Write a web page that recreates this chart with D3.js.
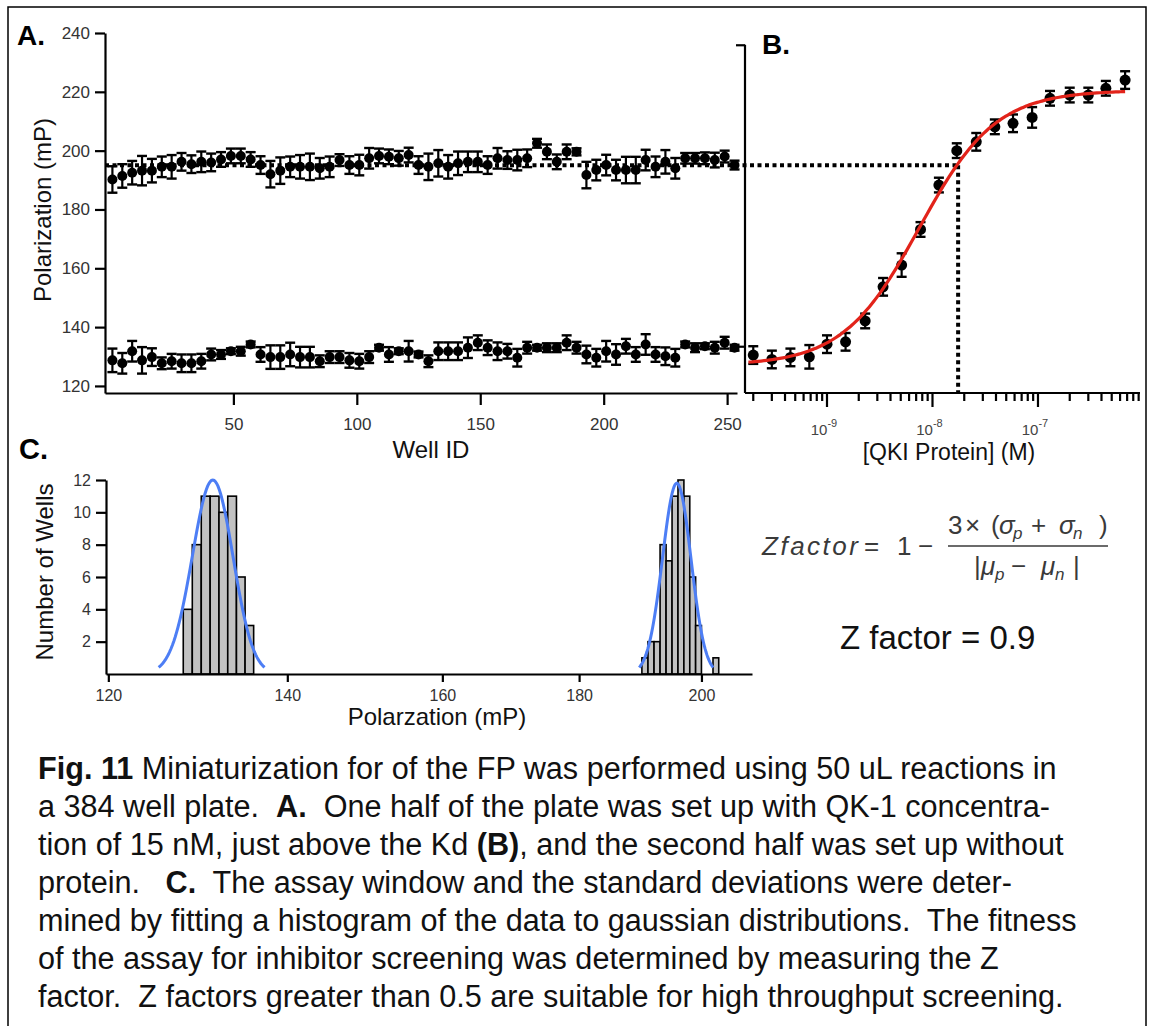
<!DOCTYPE html>
<html><head><meta charset="utf-8">
<script src="https://cdn.jsdelivr.net/npm/d3@7"></script>
<style>
body{margin:0;background:#fff}
svg{display:block}
text{font-family:"Liberation Sans",Arial,Helvetica,sans-serif}
</style>
</head><body>
<svg id="c" width="1153" height="1026"></svg>
<script>
// ---------------- DATA ----------------
// Panel A: well IDs (every 4th well)
const wellIds = [1,5,9,13,17,21,25,29,33,37,41,45,49,53,57,61,65,69,73,77,81,85,89,93,97,101,105,109,
  113,117,121,125,129,133,137,141,145,149,153,157,161,165,169,173,177,181,185,189,
  193,197,201,205,209,213,217,221,225,229,233,237,241,245,249,253];
const withProtein = [190.2,191.4,192.5,193.2,193.2,194.5,194.5,196.2,195.4,196.2,196.0,197.0,198.2,198.2,197.0,195.1,192.0,193.2,194.5,194.5,194.5,194.0,194.5,196.8,195.1,195.1,197.4,198.2,
  197.9,197.4,198.5,195.1,194.5,195.7,194.5,195.7,196.2,196.2,195.1,197.4,196.8,196.8,197.4,202.5,199.6,196.2,199.6,199.6,
  191.7,193.4,195.1,193.4,193.4,193.4,196.8,194.5,196.2,194.0,197.4,197.4,197.4,196.8,198.0,195.1];
const withProteinErr = [4.5,4,4,5,4,3.5,4,3,3,3.5,3,2.5,2.5,2.5,2.5,3,4.5,4.5,3.5,4,4.5,3.5,3.5,2,3,3.5,3.5,2.5,
  2.5,2.5,2.5,3,4.5,4.5,4,4,3.5,3.5,3,3.5,3,3.5,3,1.5,2.5,2.5,2.5,1.2,
  4.5,3.5,3.5,3.5,4.5,4.5,3.5,3.5,4,3.5,1.8,1.8,2,2.5,2,1.5];
const noProtein = [128.7,127.7,131.8,128.7,129.8,127.7,128.4,127.7,127.7,128.4,130.7,130.7,131.8,131.8,134.1,130.7,129.8,129.8,130.7,129.8,129.8,128.4,129.8,129.8,128.7,128.4,129.8,133.0,
  130.7,131.8,131.8,130.7,128.4,131.8,131.8,131.8,133.0,134.7,133.0,131.8,131.8,129.6,133.0,133.0,133.0,133.0,134.7,133.0,
  130.7,129.6,131.8,130.7,133.5,130.7,134.1,130.7,130.1,129.6,134.1,133.0,133.5,133.0,134.7,133.0];
const noProteinErr = [4,3.5,3.5,4.5,3,2,2.5,3,3,2.5,2,1.5,1,1.5,1,2.5,4,4,4,3.5,3.5,2,2,2,2.5,2.5,2,1,
  2.5,1,3.5,1,2,3,3,3,3.5,2.5,2.5,3,2.5,3,2,1,1.5,1.5,2.5,2,
  3,3,3.5,3.5,2.5,2.5,3.5,2.5,3,3,1,1.5,1,2,2,1];
const aYTicks = [120,140,160,180,200,220,240];
const aXTicks = [50,100,150,200,250];
const midLine = 195;          // dotted reference polarization

// Panel B: titration
const bConc = [2.0e-10,3.0e-10,4.5e-10,6.8e-10,1.0e-9,1.5e-9,2.3e-9,3.4e-9,5.1e-9,7.7e-9,1.15e-8,1.7e-8,2.6e-8,3.9e-8,5.8e-8,8.8e-8,1.3e-7,2.0e-7,3.0e-7,4.4e-7,6.7e-7];
const bVals = [130.5,129.0,129.7,129.9,134.2,135.0,142.1,153.7,161.1,173.2,188.3,200.0,203.0,208.1,209.3,211.3,217.8,218.9,218.9,221.2,224.0];
const bErr  = [3,3,3,4,3,3,2.5,3,4,2.5,2.5,2.5,3,2.5,3,3.5,2.5,2.5,2.5,2.5,3];
const fitBottom = 127, fitTop = 220.5, fitKd = 7.5e-9, fitHill = 1.2;
const fitRange = [1.8e-10, 6.7e-7];
const bMajor = [1e-9,1e-8,1e-7];
const bMajorExp = ["-9","-8","-7"];
const bYTicks = [133.5,236];
const chosenConc = 1.75e-8;

// Panel C: histogram
const histStarts = [128,129,130,131,132,133,134,135,190,191,192,193,194,195,196,197,198,199,202];
const histCounts = [4,8,11,11,10,11,6,3,1,2,2,8,7,11,12,11,6,3,1];
const binWidth = 1;
const gaussFits = [{mu:131.3, sigma:2.3, amp:12.0},{mu:195.8, sigma:2.4, amp:11.8}];
const cXTicks = [120,140,160,180,200];
const cYTicks = [2,4,6,8,10,12];

// ---------------- DRAW ----------------
const svg = d3.select("#c");

svg.append("path").attr("d","M8,1026V7H1146V1026").attr("fill","none").attr("stroke","#000").attr("stroke-width",1.5);

function styleAxis(g, fs){
  g.selectAll("path.domain").attr("stroke","#000").attr("stroke-width",2.2);
  g.selectAll(".tick line").attr("stroke","#000").attr("stroke-width",2.2);
  g.selectAll(".tick text").attr("font-size",fs).attr("fill","#333")
    .attr("font-family","'Liberation Sans',Arial,sans-serif");
}

// ---- Panel A ----
const xA = d3.scaleLinear().domain([-2,254]).range([105,737]);
const yA = d3.scaleLinear().domain([117.6,240]).range([393,33]);

const gAy = svg.append("g").attr("transform","translate(105,0)")
  .call(d3.axisLeft(yA).tickValues(aYTicks).tickSize(10).tickPadding(5).tickSizeOuter(0));
styleAxis(gAy,17);
const gAx = svg.append("g").attr("transform","translate(0,393)")
  .call(d3.axisBottom(xA).tickValues(aXTicks).tickSize(12).tickPadding(13).tickSizeOuter(0));
styleAxis(gAx,17);

const xB = d3.scaleLog().domain([1.67e-10,9.27e-7]).range([745,1140]);

svg.append("line").attr("x1",105).attr("x2",xB(chosenConc)).attr("y1",yA(midLine)).attr("y2",yA(midLine))
  .attr("stroke","#000").attr("stroke-width",4).attr("stroke-dasharray","4 3.5");
svg.append("line").attr("x1",xB(chosenConc)).attr("x2",xB(chosenConc)).attr("y1",yA(midLine)).attr("y2",393)
  .attr("stroke","#000").attr("stroke-width",4).attr("stroke-dasharray","4 3.5");

function errPoints(g, xs, ys, es, xScale, yScale, r, cap){
  const d = xs.map((x,i)=>({x, y:ys[i], e:es[i]}));
  const pg = g.selectAll("g.pt").data(d).join("g").attr("class","pt");
  pg.append("line").attr("x1",p=>xScale(p.x)).attr("x2",p=>xScale(p.x))
    .attr("y1",p=>yScale(p.y-p.e)).attr("y2",p=>yScale(p.y+p.e)).attr("stroke","#000").attr("stroke-width",2.2);
  [-1,1].forEach(s=>{
    pg.append("line").attr("x1",p=>xScale(p.x)-cap/2).attr("x2",p=>xScale(p.x)+cap/2)
      .attr("y1",p=>yScale(p.y+s*p.e)).attr("y2",p=>yScale(p.y+s*p.e)).attr("stroke","#000").attr("stroke-width",2.4);
  });
  pg.append("circle").attr("cx",p=>xScale(p.x)).attr("cy",p=>yScale(p.y)).attr("r",r).attr("fill","#000");
}
errPoints(svg.append("g"), wellIds, withProtein, withProteinErr, xA, yA, 5, 10);
errPoints(svg.append("g"), wellIds, noProtein, noProteinErr, xA, yA, 5, 10);

svg.append("text").attr("transform","translate(51,210) rotate(-90)").attr("text-anchor","middle")
  .attr("font-size",24).attr("fill","#111").text("Polarization (mP)");
svg.append("text").attr("x",431).attr("y",458).attr("text-anchor","middle")
  .attr("font-size",24).attr("fill","#111").text("Well ID");
svg.append("text").attr("x",17).attr("y",45).attr("font-size",28).attr("font-weight","bold").text("A.");

// ---- Panel B ----
const gBy = svg.append("g").attr("transform","translate(745,0)")
  .call(d3.axisLeft(yA).tickValues(bYTicks).tickSize(9).tickFormat("").tickSizeOuter(0));
gBy.select("path.domain").attr("d","M0,"+yA(bYTicks[1])+"V393");
styleAxis(gBy,14);
svg.append("line").attr("x1",745).attr("x2",1140).attr("y1",393).attr("y2",393).attr("stroke","#000").attr("stroke-width",2.2);
const bTicks = xB.ticks();
svg.append("g").selectAll("line").data(bTicks).join("line")
  .attr("x1",d=>xB(d)).attr("x2",d=>xB(d)).attr("y1",393)
  .attr("y2",d=>bMajor.some(m=>Math.abs(m-d)/m<1e-6)?407:401)
  .attr("stroke","#000").attr("stroke-width",2.2);
const bl = svg.append("g").selectAll("text").data(bMajor).join("text")
  .attr("x",d=>xB(d)-3).attr("y",435).attr("text-anchor","middle").attr("font-size",15).attr("fill","#444");
bl.append("tspan").text("10");
bl.append("tspan").attr("dy",-8).attr("font-size",11).text((d,i)=>bMajorExp[i]);

const fitPts = d3.range(0,121).map(i=>{
  const lx = Math.log10(fitRange[0]) + i/120*(Math.log10(fitRange[1])-Math.log10(fitRange[0]));
  const c = Math.pow(10,lx);
  const r = Math.pow(c/fitKd,fitHill);
  return [c, fitBottom + (fitTop-fitBottom)*r/(1+r)];
});
errPoints(svg.append("g"), bConc, bVals, bErr, xB, yA, 5.5, 10);
svg.append("path").datum(fitPts).attr("fill","none").attr("stroke","#e2231a").attr("stroke-width",3.2)
  .attr("d",d3.line().x(d=>xB(d[0])).y(d=>yA(d[1])).curve(d3.curveBasis));

svg.append("text").attr("x",949).attr("y",460).attr("text-anchor","middle")
  .attr("font-size",23).attr("fill","#111").text("[QKI Protein] (M)");
svg.append("text").attr("x",762).attr("y",54).attr("font-size",28).attr("font-weight","bold").text("B.");

// ---- Panel C ----
const xC = d3.scaleLog().domain([119.76,208.9]).range([106,752]);
const yC = d3.scaleLinear().domain([0,12]).range([674,480]);

svg.append("g").selectAll("rect").data(histStarts.map((s,i)=>({s,c:histCounts[i]}))).join("rect")
  .attr("x",d=>xC(d.s)).attr("width",d=>xC(d.s+binWidth)-xC(d.s))
  .attr("y",d=>yC(d.c)).attr("height",d=>yC(0)-yC(d.c))
  .attr("fill","#c2c2c2").attr("stroke","#000").attr("stroke-width",1.6);

gaussFits.forEach(g=>{
  const pts = d3.range(0,81).map(i=>{
    const v = g.mu - 2.6*g.sigma + i/80*5.2*g.sigma;
    return [v, g.amp*Math.exp(-0.5*Math.pow((v-g.mu)/g.sigma,2))];
  });
  svg.append("path").datum(pts).attr("fill","none").attr("stroke","#4d7ef5").attr("stroke-width",3)
    .attr("d",d3.line().x(d=>xC(d[0])).y(d=>yC(d[1])));
});

const gCy = svg.append("g").attr("transform","translate(106,0)")
  .call(d3.axisLeft(yC).tickValues(cYTicks).tickSize(10).tickPadding(5).tickSizeOuter(0));
styleAxis(gCy,16);
const gCx = svg.append("g").attr("transform","translate(0,674)")
  .call(d3.axisBottom(xC).tickValues(cXTicks).tickFormat(d3.format("d")).tickSize(8).tickPadding(8).tickSizeOuter(0));
styleAxis(gCx,16);

svg.append("text").attr("transform","translate(53,572) rotate(-90)").attr("text-anchor","middle")
  .attr("font-size",24).attr("fill","#111").text("Number of Wells");
svg.append("text").attr("x",437).attr("y",725).attr("text-anchor","middle")
  .attr("font-size",24).attr("fill","#111").text("Polarzation (mP)");
svg.append("text").attr("x",19).attr("y",459).attr("font-size",29).attr("font-weight","bold").text("C.");

// ---- Formula ----
const serif = "'Liberation Serif','DejaVu Serif',serif";
const fcol = "#3a3a3a";
function piece(x,y,t,ital,fs){
  return svg.append("text").attr("x",x).attr("y",y).attr("font-family",serif)
    .attr("font-style",ital?"italic":"normal").attr("font-size",fs||26).attr("fill",fcol).text(t);
}
piece(762,555,"Zfactor",true).attr("textLength",96).attr("lengthAdjust","spacing");
piece(864,555,"=");
piece(897,555,"1");
piece(918,555,"\u2212");
svg.append("line").attr("x1",948).attr("x2",1108).attr("y1",546).attr("y2",546).attr("stroke",fcol).attr("stroke-width",1.3);
piece(948,534,"3");
piece(965,534,"\u00d7");
piece(991,534,"(");
piece(999,534,"\u03c3",true);
piece(1013,539,"p",true,17);
piece(1031,534,"+");
piece(1059,534,"\u03c3",true);
piece(1073,539,"n",true,17);
piece(1099,534,")");
piece(974,575,"|");
piece(981,575,"\u03bc",true);
piece(995,580,"p",true,17);
piece(1011,575,"\u2212");
piece(1041,575,"\u03bc",true);
piece(1055,580,"n",true,17);
piece(1073,575,"|");

svg.append("text").attr("x",840).attr("y",649).attr("font-family","Lato,'Open Sans',sans-serif")
  .attr("font-size",33).attr("fill","#111").text("Z factor = 0.9");

// ---- Caption ----
const captionLines = [
 [["Fig. 11",1],[" Miniaturization for of the FP was performed using 50 uL reactions in",0]],
 [["a 384 well plate.  ",0],["A.",1],["  One half of the plate was set up with QK-1 concentra-",0]],
 [["tion of 15 nM, just above the Kd ",0],["(B)",1],[", and the second half was set up without",0]],
 [["protein.   ",0],["C.",1],["  The assay window and the standard deviations were deter-",0]],
 [["mined by fitting a histogram of the data to gaussian distributions.  The fitness",0]],
 [["of the assay for inhibitor screening was determined by measuring the Z",0]],
 [["factor.  Z factors greater than 0.5 are suitable for high throughput screening.",0]]
];
captionLines.forEach((segs,i)=>{
  const t = svg.append("text").attr("x",38).attr("y",779+i*38).attr("font-size",30.6)
    .attr("fill","#111").style("white-space","pre");
  segs.forEach(s=>t.append("tspan").attr("font-weight",s[1]?"bold":"normal").text(s[0]));
});
</script>
</body></html>
